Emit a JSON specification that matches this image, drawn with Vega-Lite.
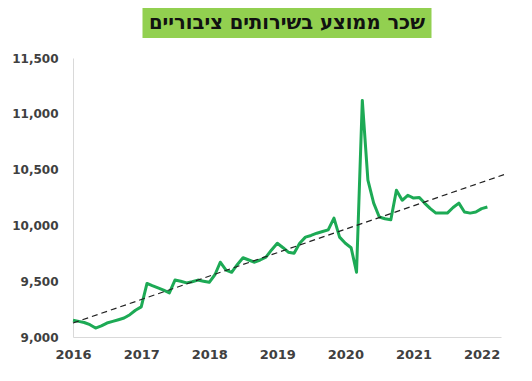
{
  "$schema": "https://vega.github.io/schema/vega-lite/v6.json",
  "padding": {"left": 11, "top": 8, "right": 5, "bottom": 5},
  "background": "white",
  "bounds": "flush",
  "center": true,
  "spacing": 20,
  "config": {"view": {"stroke": null}, "font": "Liberation Sans"},
  "datasets": {
    "wage": [
      {"date": "2016-01-01", "v": 9150}, {"date": "2016-02-01", "v": 9140}, {"date": "2016-03-01", "v": 9130}, {"date": "2016-04-01", "v": 9110},
      {"date": "2016-05-01", "v": 9080}, {"date": "2016-06-01", "v": 9100}, {"date": "2016-07-01", "v": 9125}, {"date": "2016-08-01", "v": 9140},
      {"date": "2016-09-01", "v": 9155}, {"date": "2016-10-01", "v": 9170}, {"date": "2016-11-01", "v": 9200}, {"date": "2016-12-01", "v": 9240},
      {"date": "2017-01-01", "v": 9270}, {"date": "2017-02-01", "v": 9480}, {"date": "2017-03-01", "v": 9460}, {"date": "2017-04-01", "v": 9440},
      {"date": "2017-05-01", "v": 9420}, {"date": "2017-06-01", "v": 9395}, {"date": "2017-07-01", "v": 9510}, {"date": "2017-08-01", "v": 9500},
      {"date": "2017-09-01", "v": 9485}, {"date": "2017-10-01", "v": 9495}, {"date": "2017-11-01", "v": 9510}, {"date": "2017-12-01", "v": 9500},
      {"date": "2018-01-01", "v": 9490}, {"date": "2018-02-01", "v": 9560}, {"date": "2018-03-01", "v": 9670}, {"date": "2018-04-01", "v": 9600},
      {"date": "2018-05-01", "v": 9580}, {"date": "2018-06-01", "v": 9650}, {"date": "2018-07-01", "v": 9710}, {"date": "2018-08-01", "v": 9690},
      {"date": "2018-09-01", "v": 9670}, {"date": "2018-10-01", "v": 9690}, {"date": "2018-11-01", "v": 9715}, {"date": "2018-12-01", "v": 9780},
      {"date": "2019-01-01", "v": 9840}, {"date": "2019-02-01", "v": 9800}, {"date": "2019-03-01", "v": 9760}, {"date": "2019-04-01", "v": 9750},
      {"date": "2019-05-01", "v": 9840}, {"date": "2019-06-01", "v": 9895}, {"date": "2019-07-01", "v": 9910}, {"date": "2019-08-01", "v": 9930},
      {"date": "2019-09-01", "v": 9945}, {"date": "2019-10-01", "v": 9960}, {"date": "2019-11-01", "v": 10065}, {"date": "2019-12-01", "v": 9895},
      {"date": "2020-01-01", "v": 9840}, {"date": "2020-02-01", "v": 9800}, {"date": "2020-03-01", "v": 9580}, {"date": "2020-04-01", "v": 11120},
      {"date": "2020-05-01", "v": 10405}, {"date": "2020-06-01", "v": 10200}, {"date": "2020-07-01", "v": 10075}, {"date": "2020-08-01", "v": 10060},
      {"date": "2020-09-01", "v": 10050}, {"date": "2020-10-01", "v": 10315}, {"date": "2020-11-01", "v": 10225}, {"date": "2020-12-01", "v": 10270},
      {"date": "2021-01-01", "v": 10245}, {"date": "2021-02-01", "v": 10250}, {"date": "2021-03-01", "v": 10200}, {"date": "2021-04-01", "v": 10150},
      {"date": "2021-05-01", "v": 10110}, {"date": "2021-06-01", "v": 10110}, {"date": "2021-07-01", "v": 10110}, {"date": "2021-08-01", "v": 10160},
      {"date": "2021-09-01", "v": 10200}, {"date": "2021-10-01", "v": 10120}, {"date": "2021-11-01", "v": 10110}, {"date": "2021-12-01", "v": 10120},
      {"date": "2022-01-01", "v": 10150}, {"date": "2022-02-01", "v": 10165}
    ],
    "trend": [
      {"date": "2016-01-01", "v": 9125},
      {"date": "2022-05-01", "v": 10455}
    ],
    "title": [{"t": "שכר ממוצע בשירותים ציבוריים"}]
  },
  "vconcat": [
    {
      "width": 289,
      "height": 30,
      "view": {"fill": "#92d050", "stroke": null},
      "data": {"name": "title"},
      "mark": {"type": "text", "font": "DejaVu Sans", "fontWeight": "bold", "fontSize": 19.5, "color": "#111111", "baseline": "middle", "align": "center"},
      "encoding": {"text": {"field": "t"}}
    },
    {
      "width": 428,
      "height": 279,
      "encoding": {
        "x": {
          "field": "date", "type": "temporal",
          "scale": {"domain": ["2016-01-01", "2022-04-15"]},
          "axis": {
            "title": null, "format": "%Y", "tickCount": {"interval": "year", "step": 1}, "labelFlush": false,
            "grid": false, "ticks": false, "domain": true, "domainColor": "#d9d9d9",
            "labelFont": "DejaVu Sans", "labelFontSize": 13, "labelFontWeight": "bold", "labelColor": "#404040", "labelPadding": 11
          }
        },
        "y": {
          "field": "v", "type": "quantitative",
          "scale": {"domain": [9000, 11500], "nice": false, "zero": false},
          "axis": {
            "title": null, "values": [9000, 9500, 10000, 10500, 11000, 11500], "format": ",.0f",
            "grid": false, "ticks": false, "domain": true, "domainColor": "#d9d9d9",
            "labelFont": "DejaVu Sans", "labelFontSize": 12, "labelFontWeight": "bold", "labelColor": "#404040", "labelPadding": 15
          }
        }
      },
      "layer": [
        {
          "data": {"name": "wage"},
          "mark": {"type": "line", "color": "#1daa55", "strokeWidth": 3, "strokeJoin": "round"}
        },
        {
          "data": {"name": "trend"},
          "mark": {"type": "line", "color": "#222222", "strokeWidth": 1.2, "strokeDash": [6, 4]}
        }
      ]
    }
  ]
}
